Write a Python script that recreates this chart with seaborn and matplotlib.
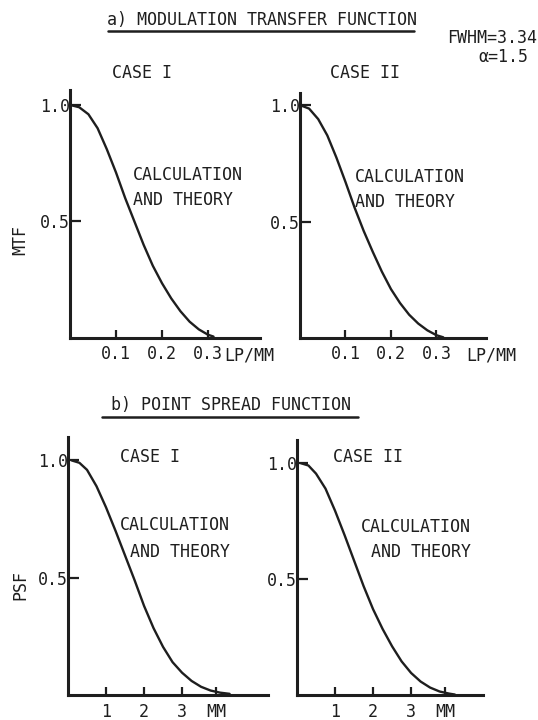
import matplotlib
matplotlib.use("Agg")
import matplotlib.pyplot as plt
import seaborn as sns
import pandas as pd
from matplotlib.lines import Line2D

# ---------------- data ----------------
# a) MTF, case I
mtf1_freq = [0.0, 0.02, 0.04, 0.06, 0.08, 0.10, 0.12, 0.14, 0.16, 0.18,
             0.20, 0.22, 0.24, 0.26, 0.28, 0.30, 0.312]
mtf1_val = [1.0, 0.99, 0.96, 0.90, 0.81, 0.71, 0.60, 0.50, 0.40, 0.31,
            0.235, 0.17, 0.115, 0.07, 0.037, 0.014, 0.006]
# a) MTF, case II
mtf2_freq = [0.0, 0.02, 0.04, 0.06, 0.08, 0.10, 0.12, 0.14, 0.16, 0.18,
             0.20, 0.22, 0.24, 0.26, 0.28, 0.30, 0.315]
mtf2_val = [1.0, 0.985, 0.94, 0.87, 0.775, 0.67, 0.56, 0.46, 0.37, 0.285,
            0.21, 0.15, 0.10, 0.062, 0.033, 0.012, 0.003]
# b) PSF, case I
psf1_mm = [0.1, 0.3, 0.5, 0.75, 1.0, 1.25, 1.5, 1.75, 2.0, 2.25, 2.5, 2.75,
           3.0, 3.25, 3.5, 3.75, 4.0, 4.25]
psf1_val = [1.0, 0.99, 0.96, 0.89, 0.80, 0.70, 0.595, 0.49, 0.38, 0.285,
            0.205, 0.14, 0.095, 0.06, 0.035, 0.019, 0.01, 0.005]
# b) PSF, case II
psf2_mm = [0.1, 0.3, 0.5, 0.75, 1.0, 1.25, 1.5, 1.75, 2.0, 2.25, 2.5, 2.75,
           3.0, 3.25, 3.5, 3.75, 4.0, 4.15]
psf2_val = [1.0, 0.99, 0.955, 0.89, 0.795, 0.69, 0.58, 0.47, 0.37, 0.285,
            0.21, 0.145, 0.095, 0.058, 0.032, 0.015, 0.006, 0.002]

mtf_ticks = [0.1, 0.2, 0.3]
mtf_ticklabels = ["0.1", "0.2", "0.3"]
psf_ticks = [1, 2, 3, 3.9]
psf_ticklabels = ["1", "2", "3", "MM"]
y_ticks = [0.5, 1.0]
y_ticklabels = ["0.5", "1.0"]

# ---------------- style ----------------
sns.set_theme(style="white")
plt.rcParams['font.family'] = ['DejaVu Sans Mono', 'DejaVu Sans']
FS = 12
INK = "#1e1e1e"

W, H = 538, 720
fig = plt.figure(figsize=(W / 100, H / 100), dpi=100)
fig.patch.set_facecolor("white")


def rect(x0, x1, top, bottom):
    return [x0 / W, 1 - bottom / H, (x1 - x0) / W, (bottom - top) / H]


def fx(x):
    return x / W


def fy(y):
    return 1 - y / H


def panel(r, xs, ys, xlim, ylim, xt, xtl, xpad):
    ax = fig.add_axes(r)
    df = pd.DataFrame({"x": xs, "y": ys})
    sns.lineplot(data=df, x="x", y="y", ax=ax, color=INK, linewidth=1.7,
                 sort=False, estimator=None)
    ax.set_xlim(*xlim)
    ax.set_ylim(*ylim)
    ax.set_xlabel("")
    ax.set_ylabel("")
    ax.set_facecolor("none")
    for s in ["top", "right"]:
        ax.spines[s].set_visible(False)
    for s in ["left", "bottom"]:
        ax.spines[s].set_color(INK)
        ax.spines[s].set_linewidth(2.2)
    ax.set_yticks(y_ticks)
    ax.set_yticklabels(y_ticklabels)
    ax.set_xticks(xt)
    ax.set_xticklabels(xtl)
    ax.tick_params(axis="y", direction="in", length=8, width=1.6, color=INK,
                   labelsize=FS, pad=0, labelcolor=INK, left=True)
    ax.tick_params(axis="x", direction="in", length=6, width=1.6, color=INK,
                   labelsize=FS, pad=xpad, labelcolor=INK, bottom=True)
    ax.grid(False)
    return ax


# top row (MTF)
panel(rect(70, 260, 90, 338), mtf1_freq, mtf1_val, (0, 0.413), (0, 1.064),
      mtf_ticks, mtf_ticklabels, 5)
panel(rect(300, 486, 93, 338), mtf2_freq, mtf2_val, (0, 0.409), (0, 1.052),
      mtf_ticks, mtf_ticklabels, 5)
# bottom row (PSF)
panel(rect(68, 268, 437, 695), psf1_mm, psf1_val, (0, 5.26), (0, 1.10),
      psf_ticks, psf_ticklabels, 6)
panel(rect(297, 483, 440, 695), psf2_mm, psf2_val, (0, 4.89), (0, 1.10),
      psf_ticks, psf_ticklabels, 6)


def txt(x, y, s, ha="left", **kw):
    fig.text(fx(x), fy(y), s, ha=ha, va="center", fontsize=FS, color=INK, **kw)


# titles with underline
txt(262, 20, "a) MODULATION TRANSFER FUNCTION", ha="center")
fig.add_artist(Line2D([fx(108), fx(414)], [fy(31), fy(31)], color=INK, lw=1.8))
txt(231, 405, "b) POINT SPREAD FUNCTION", ha="center")
fig.add_artist(Line2D([fx(102), fx(358)], [fy(417), fy(417)], color=INK, lw=1.8))

txt(537, 38, "FWHM=3.34", ha="right")
txt(503, 57, "\u03b1=1.5", ha="center")

# case labels
txt(112, 73, "CASE I")
txt(330, 73, "CASE II")
txt(120, 457, "CASE I")
txt(333, 457, "CASE II")

# annotations
txt(133, 175, "CALCULATION")
txt(133, 200, "AND THEORY")
txt(355, 177, "CALCULATION")
txt(355, 202, "AND THEORY")
txt(230, 525, "CALCULATION", ha="right")
txt(230, 552, "AND THEORY", ha="right")
txt(471, 527, "CALCULATION", ha="right")
txt(471, 552, "AND THEORY", ha="right")

# axis unit labels
txt(224, 356, "LP/MM")
txt(466, 356, "LP/MM")
fig.text(fx(20), fy(240), "MTF", rotation=90, ha="center", va="center",
         fontsize=FS, color=INK)
fig.text(fx(20), fy(585), "PSF", rotation=90, ha="center", va="center",
         fontsize=FS, color=INK)

fig.savefig("out.png", dpi=100, facecolor="white")
